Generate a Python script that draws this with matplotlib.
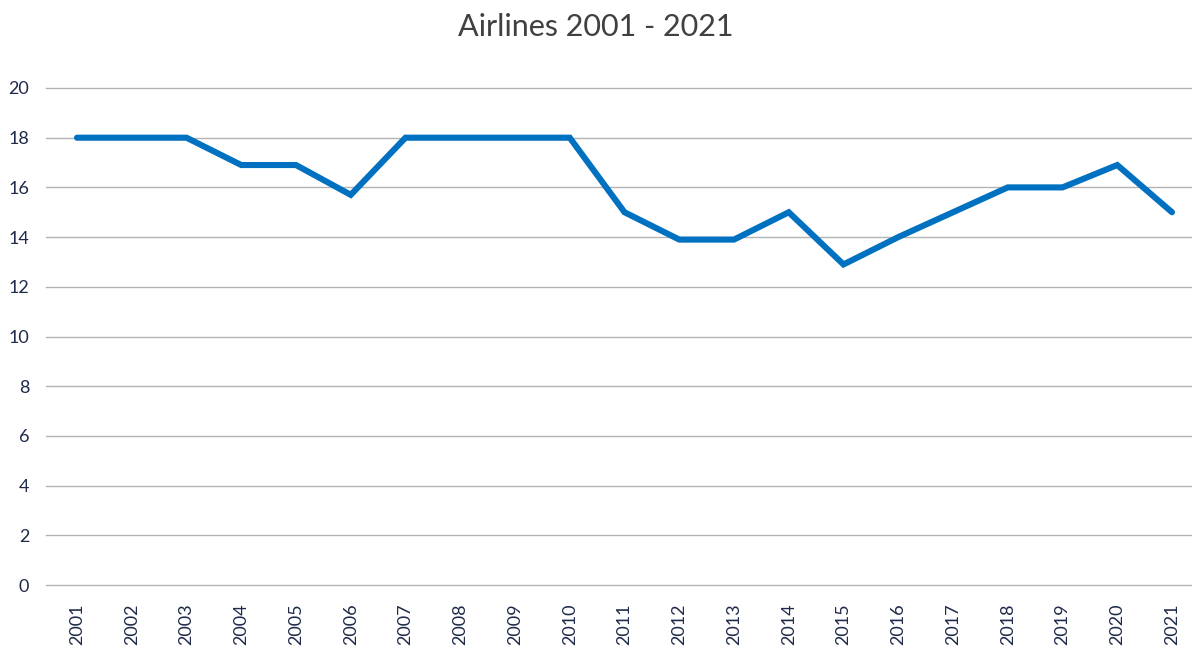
import numpy as np
import matplotlib
matplotlib.use("Agg")
from matplotlib import pyplot as plt

years = [str(y) for y in range(2001, 2022)]
values = [18, 18, 18, 16.9, 16.9, 15.7, 18, 18, 18, 18, 15,
          13.9, 13.9, 15, 12.9, 14, 15, 16, 16, 16.9, 15]
yticks = list(range(0, 21, 2))

W, H = 1192, 653
fig = plt.figure(figsize=(W / 100, H / 100), dpi=100)
ax = fig.add_axes([46 / W, 68 / H, (W - 46) / W, 497 / H])

x = np.arange(len(years))
ax.plot(x, values, color="#0070C0", lw=4.4, solid_capstyle="round",
        solid_joinstyle="miter", zorder=3)

ax.set_ylim(0, 20)
ax.set_xlim(-(77 - 46) / 54.75, 20 + (1192 - 1172) / 54.75)
ax.set_yticks(yticks)
ax.set_xticks(x)
ax.set_xticklabels(years, rotation=90)
ax.grid(axis="y", color="#b3b3b3", lw=1)
for gl in ax.get_ygridlines():
    gl.set_clip_on(False)
ax.set_axisbelow(True)
for s in ax.spines.values():
    s.set_visible(False)
ax.tick_params(length=0, labelsize=13, labelcolor="#1f2a4a")
ax.tick_params(axis="y", pad=12)
ax.tick_params(axis="x", pad=13)
for lab in ax.get_yticklabels() + ax.get_xticklabels():
    lab.set_fontfamily("Lato")

fig.text(0.5, 1 - 27 / H, "Airlines 2001 - 2021", ha="center", va="center",
         fontsize=22, color="#404040", family="Lato")

fig.savefig("out.png", dpi=100)
